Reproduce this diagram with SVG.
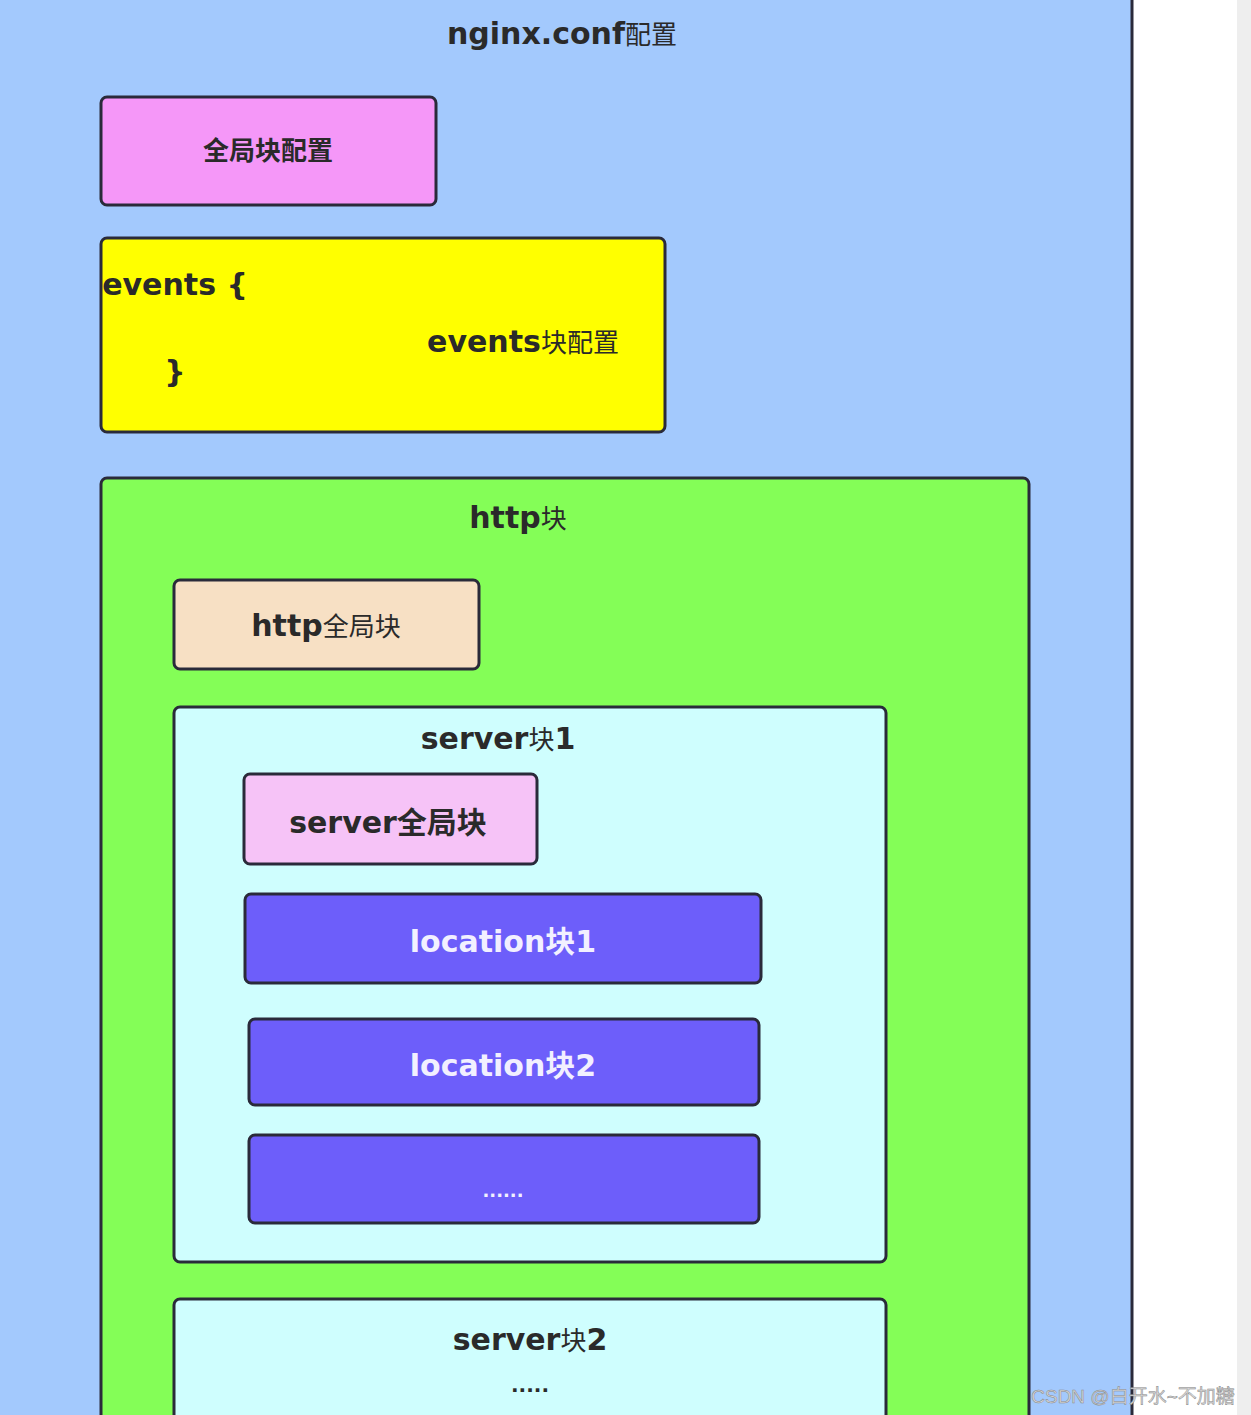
<svg xmlns="http://www.w3.org/2000/svg" width="1251" height="1415" viewBox="0 0 1251 1415">
<style>
.b{stroke:#2a2a3a;stroke-width:3}
.t{font-family:"Comic Sans MS","DejaVu Sans","Noto Sans CJK SC",sans-serif;font-weight:bold;fill:#2a2a2a;text-anchor:middle}
.w{fill:#f2f0ff}
</style>
<rect width="1251" height="1415" fill="#fff"/>
<rect x="1237" y="0" width="14" height="1415" fill="#eeeeee"/>
<g id="outer"><rect x="-10" y="-10" width="1142" height="1440" fill="#a3c9fd" class="b"/>
<text class="t" x="562" y="44" font-size="30">nginx.conf<tspan font-size="26" font-weight="normal">配置</tspan></text></g>
<g id="global"><rect x="101" y="97" width="335" height="108" rx="6" fill="#f597f8" class="b"/>
<text class="t" x="268" y="160" font-size="26" font-weight="normal" fill="#5a2a5a" font-family="Noto Sans CJK SC,serif">全局块配置</text></g>
<g id="events"><rect x="101" y="238" width="564" height="194" rx="6" fill="#ffff00" class="b"/>
<text class="t" x="175" y="295" font-size="30" text-anchor="start">events {</text>
<text class="t" x="175" y="382" font-size="30" text-anchor="start">}</text>
<text class="t" x="523" y="352" font-size="30">events<tspan font-size="26" font-weight="normal">块配置</tspan></text></g>
<g id="http"><rect x="101" y="478" width="928" height="960" rx="6" fill="#84fe57" class="b"/>
<text class="t" x="518" y="528" font-size="30">http<tspan font-size="26" font-weight="normal">块</tspan></text></g>
<g id="httpglobal"><rect x="174" y="580" width="305" height="89" rx="6" fill="#f7e0c4" class="b"/>
<text class="t" x="326" y="636" font-size="30">http<tspan font-size="26" font-weight="normal">全局块</tspan></text></g>
<g id="server1"><rect x="174" y="707" width="712" height="555" rx="6" fill="#cffefe" class="b"/>
<text class="t" x="498" y="749" font-size="30">server<tspan font-size="26" font-weight="normal">块</tspan>1</text></g>
<g id="serverglobal"><rect x="244" y="774" width="293" height="90" rx="6" fill="#f6c3f7" class="b"/>
<text class="t" x="388" y="833" font-size="30" font-weight="normal">server全局块</text></g>
<g id="loc1"><rect x="245" y="894" width="516" height="89" rx="6" fill="#6d5efa" class="b"/>
<text class="t w" x="503" y="952" font-size="30" font-weight="normal">location块1</text></g>
<g id="loc2"><rect x="249" y="1019" width="510" height="86" rx="6" fill="#6d5efa" class="b"/>
<text class="t w" x="503" y="1076" font-size="30" font-weight="normal">location块2</text></g>
<g id="loc3"><rect x="249" y="1135" width="510" height="88" rx="6" fill="#6d5efa" class="b"/>
<text class="t w" x="503" y="1197" font-size="18" font-weight="normal">......</text></g>
<g id="server2"><rect x="174" y="1299" width="712" height="140" rx="6" fill="#cffefe" class="b"/>
<text class="t" x="530" y="1350" font-size="30">server<tspan font-size="26" font-weight="normal">块</tspan>2</text>
<text class="t" x="530" y="1392" font-size="20">.....</text></g>
<g id="connectors"/>
<text x="1133" y="1403" font-family="Liberation Sans,Noto Sans CJK SC,sans-serif" font-size="19" fill="#d8d8d8" text-anchor="middle" stroke="#888" stroke-width="0.5">CSDN @白开水~不加糖</text>
</svg>
